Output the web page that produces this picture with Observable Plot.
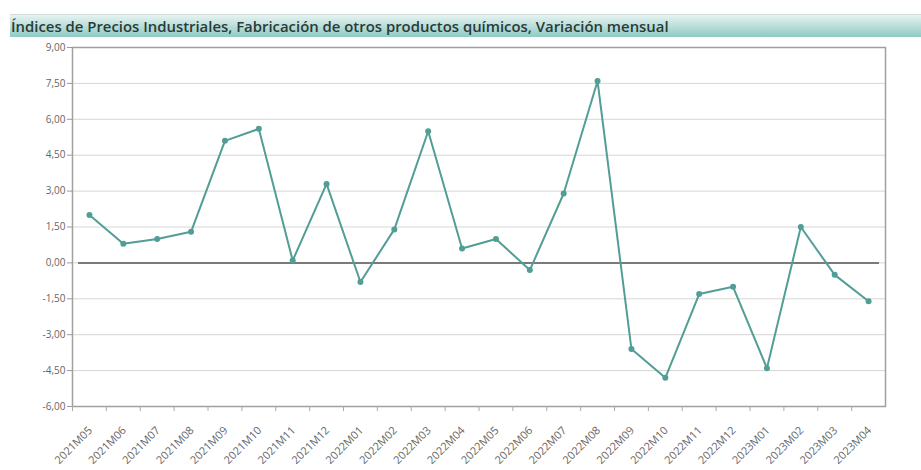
<!DOCTYPE html>
<html>
<head>
<meta charset="utf-8">
<script src="https://cdn.jsdelivr.net/npm/d3@7"></script>
<script src="https://cdn.jsdelivr.net/npm/@observablehq/plot@0.6"></script>
<style>
  body { margin: 0; background: #fff; font-family: "Open Sans", "Liberation Sans", Arial, sans-serif; }
  #wrap { position: relative; width: 921px; height: 470px; overflow: hidden; }
  #border { position: absolute; left: 10px; top: 14px; width: 0; height: 456px; border-left: 1px solid #eee; }
  #title { position: absolute; left: 10px; top: 14px; width: 911px; height: 23px;
    border-top: 1px solid #d4dcdb;
    background: linear-gradient(#e6f3f1, #8ecbc3);
    font: 600 14.9px "Open Sans", "Liberation Sans", Arial, sans-serif; color: #2b3a38;
    line-height: 22px; padding-left: 1px; box-sizing: border-box; white-space: nowrap; }
  #chart { position: absolute; left: 0; top: 37px; }
</style>
</head>
<body>
<div id="wrap">
  <div id="border"></div>
  <div id="title">Índices de Precios Industriales, Fabricación de otros productos químicos, Variación mensual</div>
  <div id="chart"></div>
</div>
<script>
const periods = ["2021M05","2021M06","2021M07","2021M08","2021M09","2021M10","2021M11","2021M12",
  "2022M01","2022M02","2022M03","2022M04","2022M05","2022M06","2022M07","2022M08","2022M09","2022M10","2022M11","2022M12",
  "2023M01","2023M02","2023M03","2023M04"];
const values = [2.0, 0.8, 1.0, 1.3, 5.1, 5.6, 0.1, 3.3,
  -0.8, 1.4, 5.5, 0.6, 1.0, -0.3, 2.9, 7.6, -3.6, -4.8, -1.3, -1.0,
  -4.4, 1.5, -0.5, -1.6];
const yTicks = [-6, -4.5, -3, -1.5, 0, 1.5, 3, 4.5, 6, 7.5, 9];

const data = periods.map((p, i) => ({period: p, value: values[i]}));
const fmt = v => v.toFixed(2).replace(".", ",");

const W = 921, H = 433, mL = 72, mR = 36, mT = 10, mB = 64;
const halfBand = (W - mL - mR) / periods.length / 2;

const chart = Plot.plot({
  width: W, height: H,
  marginLeft: mL, marginRight: mR, marginTop: mT, marginBottom: mB,
  style: {fontFamily: "'Open Sans', 'Liberation Sans', sans-serif", background: "#fff"},
  x: {type: "band", domain: periods, padding: 0, round: false, label: null},
  y: {domain: [-6, 9], label: null},
  marks: [
    Plot.gridY(yTicks, {stroke: "#d6d6d6", strokeOpacity: 1}),
    Plot.ruleY([0], {stroke: "#555", strokeWidth: 1.5, insetLeft: 6, insetRight: 6}),
    Plot.frame({stroke: "#a0a0a0", strokeWidth: 1.5}),
    Plot.axisY(yTicks, {tickFormat: fmt, tickSize: 5, tickPadding: 2, stroke: "#999", fill: "#666", fontSize: 10, label: null}),
    Plot.axisX(periods, {tickSize: 5, text: null, dx: -halfBand, stroke: "#aaa", label: null}),
    Plot.text(periods, {x: d => d, frameAnchor: "bottom", rotate: -45, textAnchor: "end", lineAnchor: "middle",
      dx: 1, dy: 22, fill: "#666", fontSize: 11}),
    Plot.line(data, {x: "period", y: "value", stroke: "#529d96", strokeWidth: 2}),
    Plot.dot(data, {x: "period", y: "value", fill: "#529d96", r: 3})
  ]
});
document.getElementById("chart").appendChild(chart);
</script>
</body>
</html>
